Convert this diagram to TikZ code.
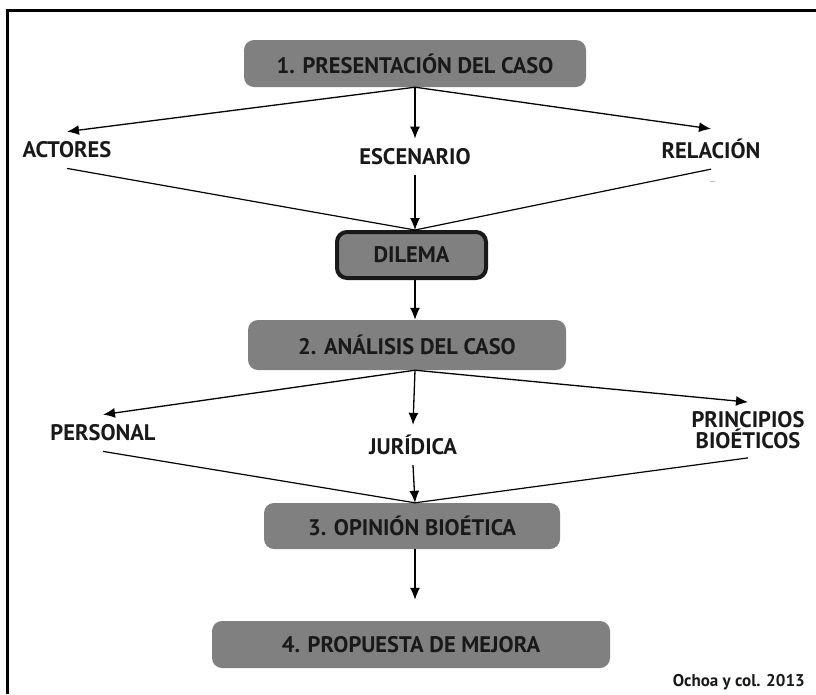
\documentclass[tikz,border=0pt]{standalone}
\usepackage{fontspec}
\setmainfont{PT Sans}
\usetikzlibrary{arrows.meta}
\begin{document}
\begin{tikzpicture}[x=1pt,y=-1pt]
	\tikzstyle{stepbox} = [shape=rectangle, rounded corners=10pt, fill=black!50, text=black!90, font=\fontsize{22.5}{26}\selectfont\bfseries, minimum height=47pt]
	\tikzstyle{dilemabox} = [stepbox, draw=black!90, line width=4pt, minimum width=149pt, minimum height=46pt]
	\tikzstyle{branch} = [font=\fontsize{22.5}{26}\selectfont\bfseries, text=black!90, inner xsep=0pt, inner ysep=10pt, align=center]
	\tikzstyle{arr} = [-{Latex[length=12pt,width=10pt]}, line width=1.3pt]
	\tikzstyle{back} = [line width=1.2pt]

	\useasboundingbox (0,0) rectangle (816,694);

	% FRAME %
	\draw[line width=3pt] (7.5,694) -- (7.5,10) -- (816,10);

	% NODES %
	\node[stepbox, minimum width=342pt] (caso1) at (415,63.5) {1. PRESENTACIÓN DEL CASO};
	\node[branch] (actores) at (67,150) {ACTORES};
	\node[branch] (escenario) at (415,157) {ESCENARIO};
	\node[branch] (relacion) at (711,149) {RELACIÓN};
	\node[dilemabox] (dilema) at (411.5,255) {DILEMA};

	\node[stepbox, minimum width=318pt, minimum height=50pt] (caso2) at (407,345) {2. ANÁLISIS DEL CASO};
	\node[branch] (personal) at (103,433) {PERSONAL};
	\node[branch] (juridica) at (413,445) {JURÍDICA};
	\node[branch, inner ysep=9pt] (principios) at (748,430) {PRINCIPIOS\\[-5pt]BIOÉTICOS};

	\node[stepbox, minimum width=296pt, minimum height=46pt] (caso3) at (412,526) {3. OPINIÓN BIOÉTICA};
	\node[stepbox, minimum width=398pt] (caso4) at (411,644.5) {4. PROPUESTA DE MEJORA};
	\node[font=\fontsize{17}{20}\selectfont\bfseries, text=black!90, anchor=east, inner sep=0pt] (fuente) at (805,682) {Ochoa y col. 2013};

	% EDGES %
	%presentacion
	\draw[arr] (caso1.south) -- (actores.north);
	\draw[arr] (caso1.south) -- (escenario.north);
	\draw[arr] (caso1.south) -- (relacion.north);
	\draw[back] (actores.south) -- (dilema.north -| caso1.south);
	\draw[back] (relacion.south) -- (dilema.north -| caso1.south);
	\draw[arr] (escenario.south) -- (dilema.north -| caso1.south);
	\draw[gray!50, line width=1pt] ([xshift=-1pt,yshift=-12pt]relacion.south) -- ([xshift=4pt,yshift=-12pt]relacion.south);
	%analisis
	\draw[arr] (dilema.south -| caso1.south) -- (caso2.north -| caso1.south);
	\draw[arr] (caso2.south -| caso1.south) -- (personal.north);
	\draw[arr] (caso2.south -| caso1.south) -- (juridica.north);
	\draw[arr] (caso2.south -| caso1.south) -- (principios.north);
	\draw[back] (personal.south) -- (caso3.north -| caso1.south);
	\draw[back] (principios.south) -- (caso3.north -| caso1.south);
	\draw[arr] (juridica.south) -- (caso3.north -| caso1.south);
	%opinion
	\draw[arr] (caso3.south -| caso1.south) -- ([yshift=21pt]caso4.north -| caso1.south);
\end{tikzpicture}
\end{document}
